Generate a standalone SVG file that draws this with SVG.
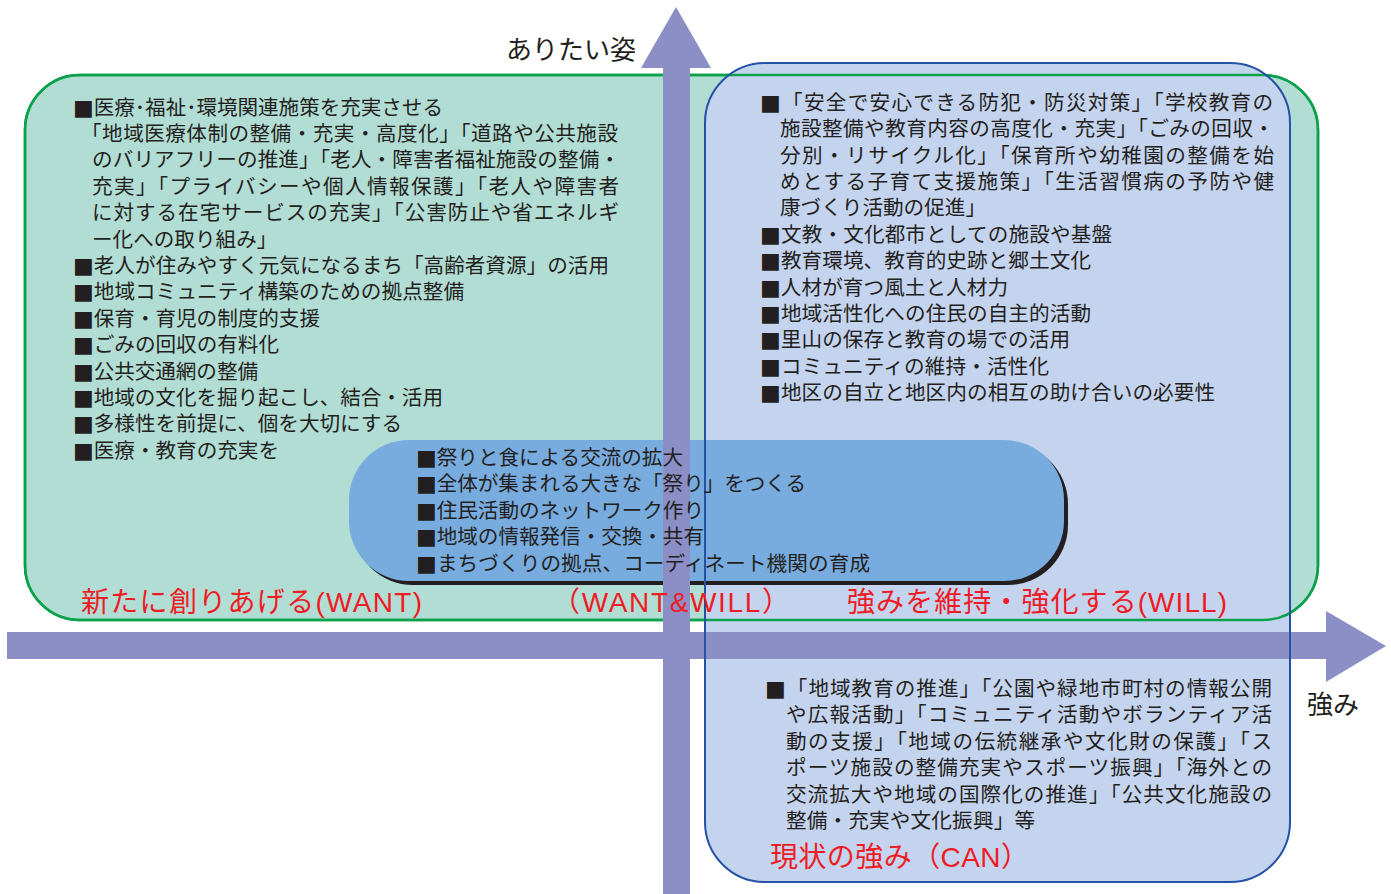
<svg xmlns="http://www.w3.org/2000/svg" width="1391" height="894" viewBox="0 0 1391 894">
<style>
.t{font-family:"Liberation Sans","Noto Sans CJK JP","Noto Sans CJK SC",sans-serif;font-size:20.6px;fill:#231f20}
.r{font-family:"Liberation Sans","Noto Sans CJK JP","Noto Sans CJK SC",sans-serif;font-size:28px;fill:#ee1c25}
.a{font-family:"Liberation Sans","Noto Sans CJK JP","Noto Sans CJK SC",sans-serif;font-size:26px;fill:#231f20}
.b{font-family:"DejaVu Sans",sans-serif;font-size:22px}
.ax{fill:#8b8fc6}
</style>
<rect width="1391" height="894" fill="#ffffff"/>
<g id="want-region">
<rect x="25" y="75" width="1293" height="545" rx="55" fill="#b2ddd4" stroke="#0ca14b" stroke-width="2.5"/>
</g>
<g id="can-region">
<rect x="705" y="63" width="585" height="819" rx="60" fill="#c5d4ee"/>
</g>
<g id="outline-green">
<rect x="25" y="75" width="1293" height="545" rx="55" fill="none" stroke="#0ca14b" stroke-width="2.5"/>
</g>
<g id="want-will-region">
<rect x="353" y="444" width="715" height="141" rx="60" fill="#231f20"/>
<rect x="349" y="440" width="715" height="141" rx="60" fill="#78acdf"/>
</g>
<g id="connectors">
<rect class="ax" x="663" y="66" width="27" height="828"/>
<polygon class="ax" points="641,68 676,7 711,68"/>
<rect class="ax" x="7" y="632" width="1321" height="27"/>
<polygon class="ax" points="1326,611 1386,646 1326,682"/>
</g>
<g id="outline-blue">
<rect x="705" y="63" width="585" height="819" rx="60" fill="none" stroke="#2452a4" stroke-width="2"/>
</g>
<g id="axis-labels">
<text class="a" x="506" y="59" textLength="130">ありたい姿</text>
<text class="a" x="1307" y="714">強み</text>
</g>
<g id="want-text">
<text class="t" x="73" y="114.6" textLength="370"><tspan class="b">■</tspan>医療･福祉･環境関連施策を充実させる</text>
<text class="t" x="81" y="141" textLength="537">「地域医療体制の整備・充実・高度化」「道路や公共施設</text>
<text class="t" x="92" y="167.4" textLength="528">のバリアフリーの推進」「老人・障害者福祉施設の整備・</text>
<text class="t" x="92" y="193.8" textLength="527">充実」「プライバシーや個人情報保護」「老人や障害者</text>
<text class="t" x="92" y="220.2" textLength="527">に対する在宅サービスの充実」「公害防止や省エネルギ</text>
<text class="t" x="92" y="246.6">ー化への取り組み」</text>
<text class="t" x="73" y="273" textLength="536"><tspan class="b">■</tspan>老人が住みやすく元気になるまち「高齢者資源」の活用</text>
<text class="t" x="73" y="299.4" textLength="391"><tspan class="b">■</tspan>地域コミュニティ構築のための拠点整備</text>
<text class="t" x="73" y="325.8" textLength="247"><tspan class="b">■</tspan>保育・育児の制度的支援</text>
<text class="t" x="73" y="352.2" textLength="206"><tspan class="b">■</tspan>ごみの回収の有料化</text>
<text class="t" x="73" y="378.6" textLength="185"><tspan class="b">■</tspan>公共交通網の整備</text>
<text class="t" x="73" y="405" textLength="370"><tspan class="b">■</tspan>地域の文化を掘り起こし、結合・活用</text>
<text class="t" x="73" y="431.4" textLength="329"><tspan class="b">■</tspan>多様性を前提に、個を大切にする</text>
<text class="t" x="73" y="457.8" textLength="206"><tspan class="b">■</tspan>医療・教育の充実を</text>
<text class="r" x="81" y="612" textLength="341">新たに創りあげる(WANT)</text>
</g>
<g id="will-text">
<text class="t" x="760" y="109.8" textLength="513"><tspan class="b">■</tspan>「安全で安心できる防犯・防災対策」「学校教育の</text>
<text class="t" x="780" y="136.2" textLength="494">施設整備や教育内容の高度化・充実」「ごみの回収・</text>
<text class="t" x="780" y="162.6" textLength="494">分別・リサイクル化」「保育所や幼稚園の整備を始</text>
<text class="t" x="780" y="189" textLength="494">めとする子育て支援施策」「生活習慣病の予防や健</text>
<text class="t" x="780" y="215.4" textLength="206">康づくり活動の促進」</text>
<text class="t" x="760" y="241.8" textLength="352"><tspan class="b">■</tspan>文教・文化都市としての施設や基盤</text>
<text class="t" x="760" y="268.2" textLength="331"><tspan class="b">■</tspan>教育環境、教育的史跡と郷土文化</text>
<text class="t" x="760" y="294.6" textLength="248"><tspan class="b">■</tspan>人材が育つ風土と人材力</text>
<text class="t" x="760" y="321" textLength="331"><tspan class="b">■</tspan>地域活性化への住民の自主的活動</text>
<text class="t" x="760" y="347.4" textLength="310"><tspan class="b">■</tspan>里山の保存と教育の場での活用</text>
<text class="t" x="760" y="373.8" textLength="289"><tspan class="b">■</tspan>コミュニティの維持・活性化</text>
<text class="t" x="760" y="400.2" textLength="455"><tspan class="b">■</tspan>地区の自立と地区内の相互の助け合いの必要性</text>
<text class="r" x="847" y="612" textLength="380">強みを維持・強化する(WILL)</text>
</g>
<g id="want-will-text">
<text class="t" x="416" y="465" textLength="267"><tspan class="b">■</tspan>祭りと食による交流の拡大</text>
<text class="t" x="416" y="491.4" textLength="390"><tspan class="b">■</tspan>全体が集まれる大きな「祭り」をつくる</text>
<text class="t" x="416" y="517.8" textLength="288"><tspan class="b">■</tspan>住民活動のネットワーク作り</text>
<text class="t" x="416" y="544.2" textLength="288"><tspan class="b">■</tspan>地域の情報発信・交換・共有</text>
<text class="t" x="416" y="570.6" textLength="454"><tspan class="b">■</tspan>まちづくりの拠点、コーディネート機関の育成</text>
<text class="r" x="552" y="612" textLength="238">（WANT&amp;WILL）</text>
</g>
<g id="can-text">
<text class="t" x="765" y="696" textLength="507"><tspan class="b">■</tspan>「地域教育の推進」「公園や緑地市町村の情報公開</text>
<text class="t" x="786" y="722.4" textLength="486">や広報活動」「コミュニティ活動やボランティア活</text>
<text class="t" x="786" y="748.8" textLength="486">動の支援」「地域の伝統継承や文化財の保護」「ス</text>
<text class="t" x="786" y="775.2" textLength="486">ポーツ施設の整備充実やスポーツ振興」「海外との</text>
<text class="t" x="786" y="801.6" textLength="486">交流拡大や地域の国際化の推進」「公共文化施設の</text>
<text class="t" x="786" y="828" textLength="249">整備・充実や文化振興」等</text>
<text class="r" x="770" y="867" textLength="259">現状の強み（CAN）</text>
</g>
</svg>
